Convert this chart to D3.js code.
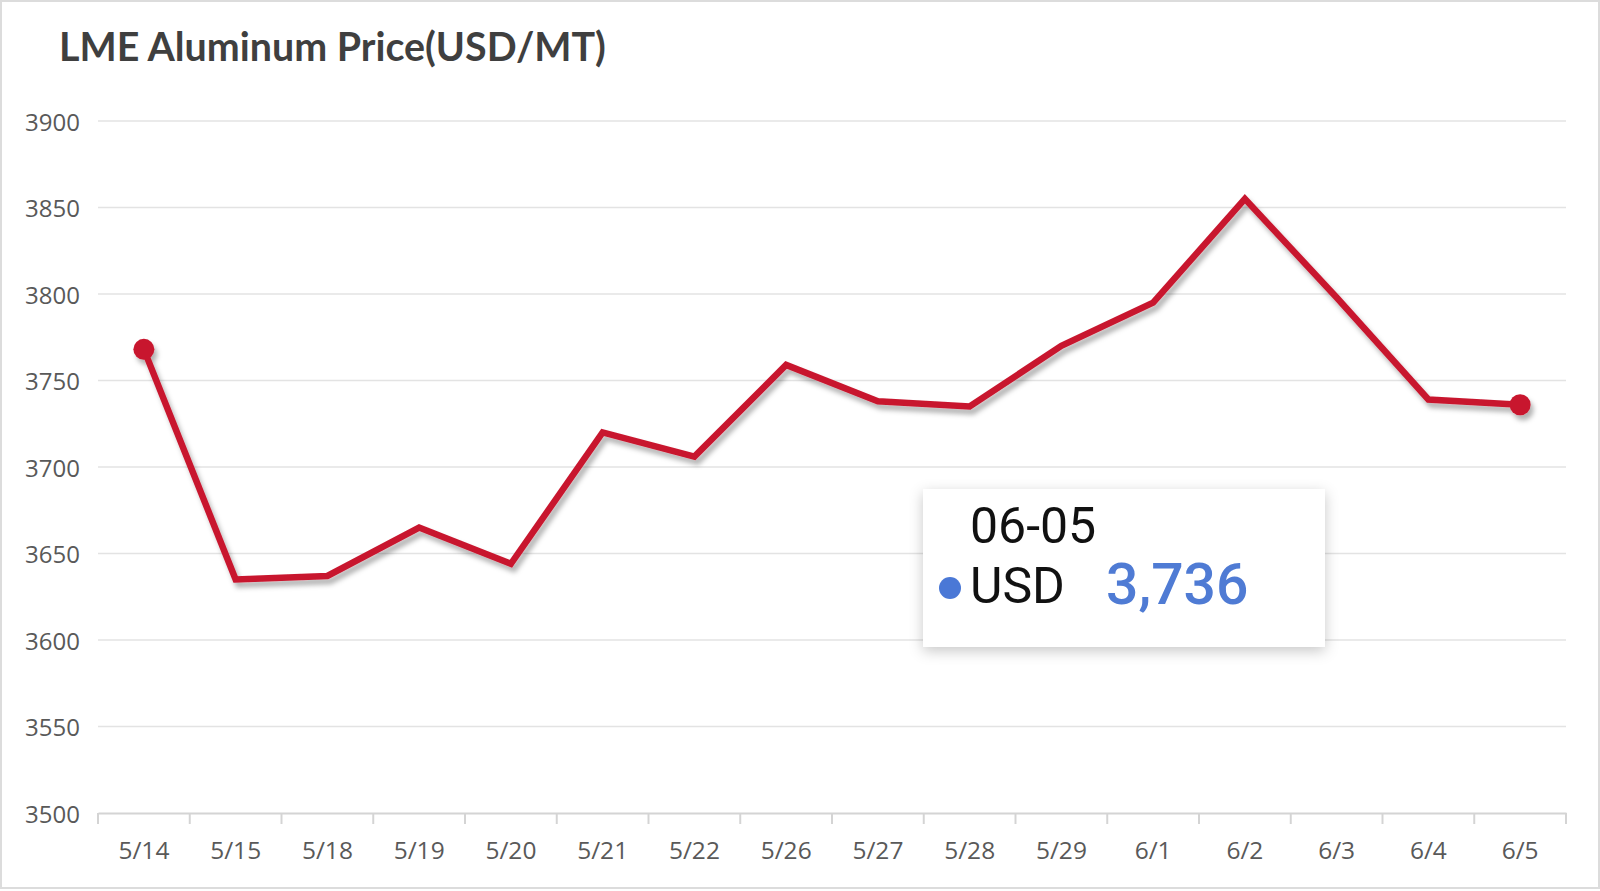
<!DOCTYPE html>
<html>
<head>
<meta charset="utf-8">
<script src="https://cdn.jsdelivr.net/npm/d3@7/dist/d3.min.js"></script>
<style>
  html, body { margin: 0; padding: 0; background: #fff; }
  svg { display: block; }
</style>
</head>
<body>
<svg id="chart" width="1600" height="891"></svg>
<script>
// ---- data ----
const titleText = "LME Aluminum Price(USD/MT)";
const categories = ["5/14","5/15","5/18","5/19","5/20","5/21","5/22","5/26","5/27","5/28","5/29","6/1","6/2","6/3","6/4","6/5"];
const prices = [3768, 3635, 3637, 3665, 3644, 3720, 3706, 3759, 3738, 3735, 3770, 3795, 3855, 3798, 3739, 3736];
const yTicks = [3500, 3550, 3600, 3650, 3700, 3750, 3800, 3850, 3900];
const tooltipDate = "06-05";
const seriesName = "USD";

(function () {
// ---- layout ----
const W = 1600, H = 891;
const plotLeft = 98, plotRight = 1566, plotTop = 121, plotBottom = 813;
const svg = d3.select("#chart");

const defs = svg.append("defs");
const lineShadow = defs.append("filter").attr("id", "lineShadow")
  .attr("x", "-5%").attr("y", "-10%").attr("width", "115%").attr("height", "130%");
lineShadow.append("feDropShadow").attr("dx", 3).attr("dy", 5).attr("stdDeviation", 2.5)
  .attr("flood-color", "#000").attr("flood-opacity", 0.3);
const boxShadow = defs.append("filter").attr("id", "boxShadow")
  .attr("x", "-10%").attr("y", "-20%").attr("width", "120%").attr("height", "140%");
boxShadow.append("feDropShadow").attr("dx", 0).attr("dy", 4).attr("stdDeviation", 7)
  .attr("flood-color", "#000").attr("flood-opacity", 0.22);

// frame
svg.append("rect").attr("x", 1).attr("y", 1).attr("width", W - 2).attr("height", H - 4)
  .attr("fill", "#fff").attr("stroke", "#dcdcdc").attr("stroke-width", 2);

// title (fit to measured width)
const title = svg.append("text").attr("x", 59).attr("y", 61)
  .attr("font-family", "Lato, 'Open Sans', sans-serif").attr("font-weight", 700)
  .attr("font-size", 100).attr("fill", "#3f3f3f").text(titleText);
const tw = title.node().getComputedTextLength();
title.attr("font-size", 100 * 547 / tw);

// scales
const x = d3.scaleBand().domain(categories).range([plotLeft, plotRight]).paddingInner(0).paddingOuter(0);
const y = d3.scaleLinear().domain([yTicks[0], yTicks[yTicks.length - 1]]).range([plotBottom, plotTop]);

// gridlines
svg.append("g").selectAll("line").data(yTicks.slice(1)).join("line")
  .attr("x1", plotLeft).attr("x2", plotRight)
  .attr("y1", d => y(d)).attr("y2", d => y(d))
  .attr("stroke", "#e3e3e3").attr("stroke-width", 1.5);

// y axis
const yAxis = svg.append("g").attr("transform", `translate(${plotLeft},0)`)
  .call(d3.axisLeft(y).tickValues(yTicks).tickSize(0).tickPadding(18).tickFormat(d3.format("d")));
yAxis.select(".domain").remove();
yAxis.selectAll("text").attr("font-family", "'Open Sans', sans-serif").attr("font-size", 24)
  .attr("fill", "#595959").attr("dy", "0.38em");

// x axis
const xAxis = svg.append("g").attr("transform", `translate(0,${plotBottom})`)
  .call(d3.axisBottom(x).tickSize(0).tickSizeOuter(0));
xAxis.select(".domain").attr("stroke", "#d4d4d4").attr("stroke-width", 2);
xAxis.selectAll("text").attr("font-family", "'Open Sans', sans-serif").attr("font-size", 24.5)
  .attr("fill", "#595959").attr("dy", null).attr("y", 46);
// tick marks at band boundaries
const boundaries = categories.map(c => x(c)).concat([x(categories[categories.length - 1]) + x.bandwidth()]);
xAxis.append("g").selectAll("line").data(boundaries).join("line")
  .attr("x1", d => d).attr("x2", d => d).attr("y1", 0).attr("y2", 11)
  .attr("stroke", "#d4d4d4").attr("stroke-width", 2);

// line
const cx = i => x(categories[i]) + x.bandwidth() / 2;
const line = d3.line().x((d, i) => cx(i)).y(d => y(d));
const gLine = svg.append("g").attr("filter", "url(#lineShadow)");
gLine.append("path").datum(prices).attr("d", line)
  .attr("fill", "none").attr("stroke", "#c8172f").attr("stroke-width", 6.5)
  .attr("stroke-linejoin", "miter").attr("stroke-linecap", "butt");
const endIdx = [0, prices.length - 1];
gLine.selectAll("circle").data(endIdx).join("circle")
  .attr("cx", i => cx(i)).attr("cy", i => y(prices[i])).attr("r", 10.5)
  .attr("fill", "#c8172f");

// tooltip
const tip = svg.append("g");
tip.append("rect").attr("x", 923).attr("y", 489).attr("width", 402).attr("height", 158)
  .attr("fill", "#fff").attr("filter", "url(#boxShadow)");
tip.append("text").attr("x", 970).attr("y", 543).attr("font-family", "Roboto, sans-serif")
  .attr("font-size", 50).attr("fill", "#111").text(tooltipDate);
tip.append("circle").attr("cx", 950).attr("cy", 588).attr("r", 11).attr("fill", "#4a78d6");
tip.append("text").attr("x", 970).attr("y", 603).attr("font-family", "Roboto, sans-serif")
  .attr("font-size", 50).attr("fill", "#111").text(seriesName);
tip.append("text").attr("x", 1106).attr("y", 604).attr("font-family", "Roboto, sans-serif")
  .attr("font-weight", 500).attr("font-size", 57).attr("fill", "#4f7bd4")
  .text(d3.format(",")(prices[prices.length - 1]));
})();
</script>
</body>
</html>
